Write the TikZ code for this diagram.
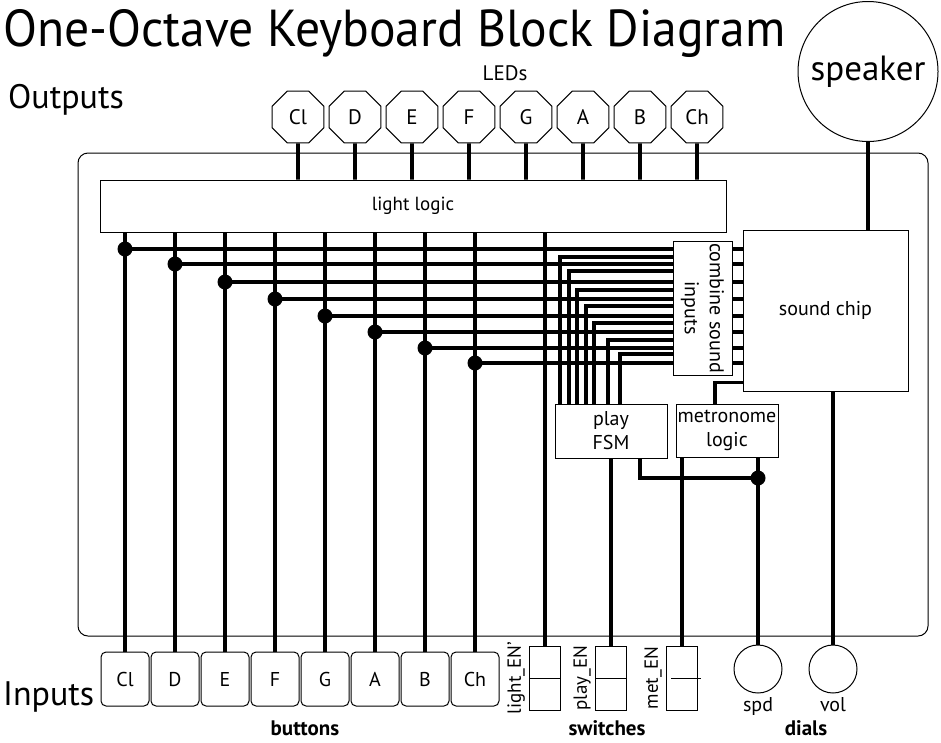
\documentclass[tikz,border=0pt]{standalone}
\usepackage{fontspec}
\setmainfont{PT Sans}
\usetikzlibrary{positioning, calc, shapes.geometric}

\tikzset{
	led/.style={draw, regular polygon, regular polygon sides=8, minimum size=56pt, inner sep=0pt, line width=1pt, font=\fontsize{21}{24}\selectfont},
	key/.style={draw, rounded corners=5pt, minimum width=48pt, minimum height=54pt, line width=1pt, font=\fontsize{20}{23}\selectfont},
	block/.style={draw, line width=1pt, align=center, inner sep=0pt, font=\fontsize{19}{24}\selectfont},
	switchbox/.style={draw, line width=1pt, minimum width=31pt, minimum height=64pt, inner sep=0pt},
	swlabel/.style={rotate=90, anchor=south, inner sep=1pt, font=\fontsize{19}{22}\selectfont},
	dial/.style={draw, circle, line width=1pt, minimum size=48pt, inner sep=0pt},
	wire/.style={line width=3.6pt},
	junction/.style={fill, circle, minimum size=15pt, inner sep=0pt},
	heading/.style={font=\fontsize{21}{24}\selectfont\bfseries},
}

\begin{document}
\begin{tikzpicture}[x=1pt, y=-1pt]
			\useasboundingbox (0,0) rectangle (941,742);
			
			% titles
			\node[inner sep=0pt, anchor=base west, font=\fontsize{52}{60}\selectfont] (title) at (3,46) {\scalebox{0.955}[1]{One-Octave Keyboard Block Diagram}};
			\node[inner sep=0pt, anchor=base west, font=\fontsize{34}{40}\selectfont] (outputs) at (8,108) {Outputs};
			\node[inner sep=0pt, anchor=base west, font=\fontsize{34}{40}\selectfont] (inputs) at (3,705) {Inputs};
			
			% board
			\node[draw, line width=1pt, rounded corners=10pt, minimum width=850pt, minimum height=483pt] (board) at (503,394.5) {};
			
			% outputs
			\node[inner sep=0pt, anchor=base, font=\fontsize{21}{24}\selectfont] (ledtxt) at (505,80) {LEDs};
			\node[led] (ledCl) at (298,117) {Cl};
			\node[led] (ledD)  at (355,117) {D};
			\node[led] (ledE)  at (412,117) {E};
			\node[led] (ledF)  at (469,117) {F};
			\node[led] (ledG)  at (526,117) {G};
			\node[led] (ledA)  at (583,117) {A};
			\node[led] (ledB)  at (640,117) {B};
			\node[led] (ledCh) at (697,117) {Ch};
			\node[dial, minimum size=140pt, font=\fontsize{35}{40}\selectfont] (spk) at (868,71.5) {speaker};
			
			% logic blocks
			\node[block, minimum width=626pt, minimum height=52pt] (logic) at (413,206) {light logic};
			\node[block, rotate=-90, minimum width=134pt, minimum height=59pt, font=\fontsize{20}{25}\selectfont] (comb) at (702.5,308) {combine sound\\inputs};
			\node[block, minimum width=165pt, minimum height=161pt, font=\fontsize{20}{24}\selectfont] (chip) at (825.5,310.5) {sound chip};
			\node[block, minimum width=112pt, minimum height=54pt, font=\fontsize{20}{24}\selectfont] (fsm) at (611,431) {play\\FSM};
			\node[block, minimum width=102pt, minimum height=53pt, font=\fontsize{20}{24}\selectfont] (met) at (727,430.5) {metronome\\logic};
			
			% inputs
			\node[key] (btnCl) at (125,679) {Cl};
			\node[key] (btnD)  at (175,679) {D};
			\node[key] (btnE)  at (225,679) {E};
			\node[key] (btnF)  at (275,679) {F};
			\node[key] (btnG)  at (325,679) {G};
			\node[key] (btnA)  at (375,679) {A};
			\node[key] (btnB)  at (425,679) {B};
			\node[key] (btnCh) at (475,679) {Ch};
			
			\node[switchbox] (swLight) at (545,678) {};
			\node[switchbox] (swPlay)  at (611,678) {};
			\node[switchbox] (swMet)   at (682,678) {};
			\draw[line width=1pt] (swLight.west) -- (swLight.east);
			\draw[line width=1pt] (swPlay.west) -- (swPlay.east);
			\draw[line width=1pt] ([xshift=5pt]swMet.west) -- ([xshift=3pt]swMet.east);
			\node[swlabel] (lblLight) at ([xshift=-3pt]swLight.west) {light\_EN’};
			\node[swlabel] (lblPlay)  at ([xshift=-3pt]swPlay.west) {play\_EN};
			\node[swlabel] (lblMet)   at ([xshift=-3pt]swMet.west) {met\_EN};
			
			\node[dial] (spd) at (758,669) {};
			\node[dial] (vol) at (833,669) {};
			\node[below=0pt of spd, font=\fontsize{20}{23}\selectfont] (spdtxt) {spd};
			\node[below=0pt of vol, font=\fontsize{20}{23}\selectfont] (voltxt) {vol};
			
			\node[heading, anchor=base] (buttons)  at (305,735) {buttons};
			\node[heading, anchor=base] (switches) at (607,735) {switches};
			\node[heading, anchor=base] (dials)    at (806,735) {dials};
			
			% wiring
			\foreach \n in {Cl,D,E,F,G,A,B,Ch}
				\draw[wire] (led\n.south) -- (led\n |- logic.north);
			\foreach \n/\y in {Cl/249, D/264, E/282, F/299, G/316, A/332, B/348, Ch/363} {
				\node[junction] (j\n) at (btn\n |- 0,\y) {};
				\draw[wire] (btn\n.north) -- (btn\n |- logic.south);
				\draw[wire] (j\n.center) -- (j\n -| comb.south);
				\draw[wire] (j\n -| comb.north) -- (j\n -| chip.west);
			}
			\foreach \x/\y in {560/257, 569/271, 577/290, 586/306, 594/323, 608/340, 620/354} {
				\coordinate (f) at (\x,\y);
				\draw[wire] (f |- fsm.north) |- (f -| comb.south);
			}
			\draw[wire] (swLight.north) -- (swLight |- logic.south);
			\draw[wire] (swPlay.north) -- (fsm.south);
			\draw[wire] (swMet.north) -- (swMet |- met.south);
			\node[junction] (jSpd) at (spd |- 0,478) {};
			\draw[wire] (spd.north) -- (spd |- met.south);
			\draw[wire] ([xshift=29pt]fsm.south) |- (jSpd.center);
			\draw[wire] ([xshift=-12pt]met.north) |- ([yshift=9pt]chip.south west);
			\draw[wire] (vol.north) -- (vol |- chip.south);
			\draw[wire] (spk.south) -- (spk |- chip.north);
		\end{tikzpicture}
\end{document}
